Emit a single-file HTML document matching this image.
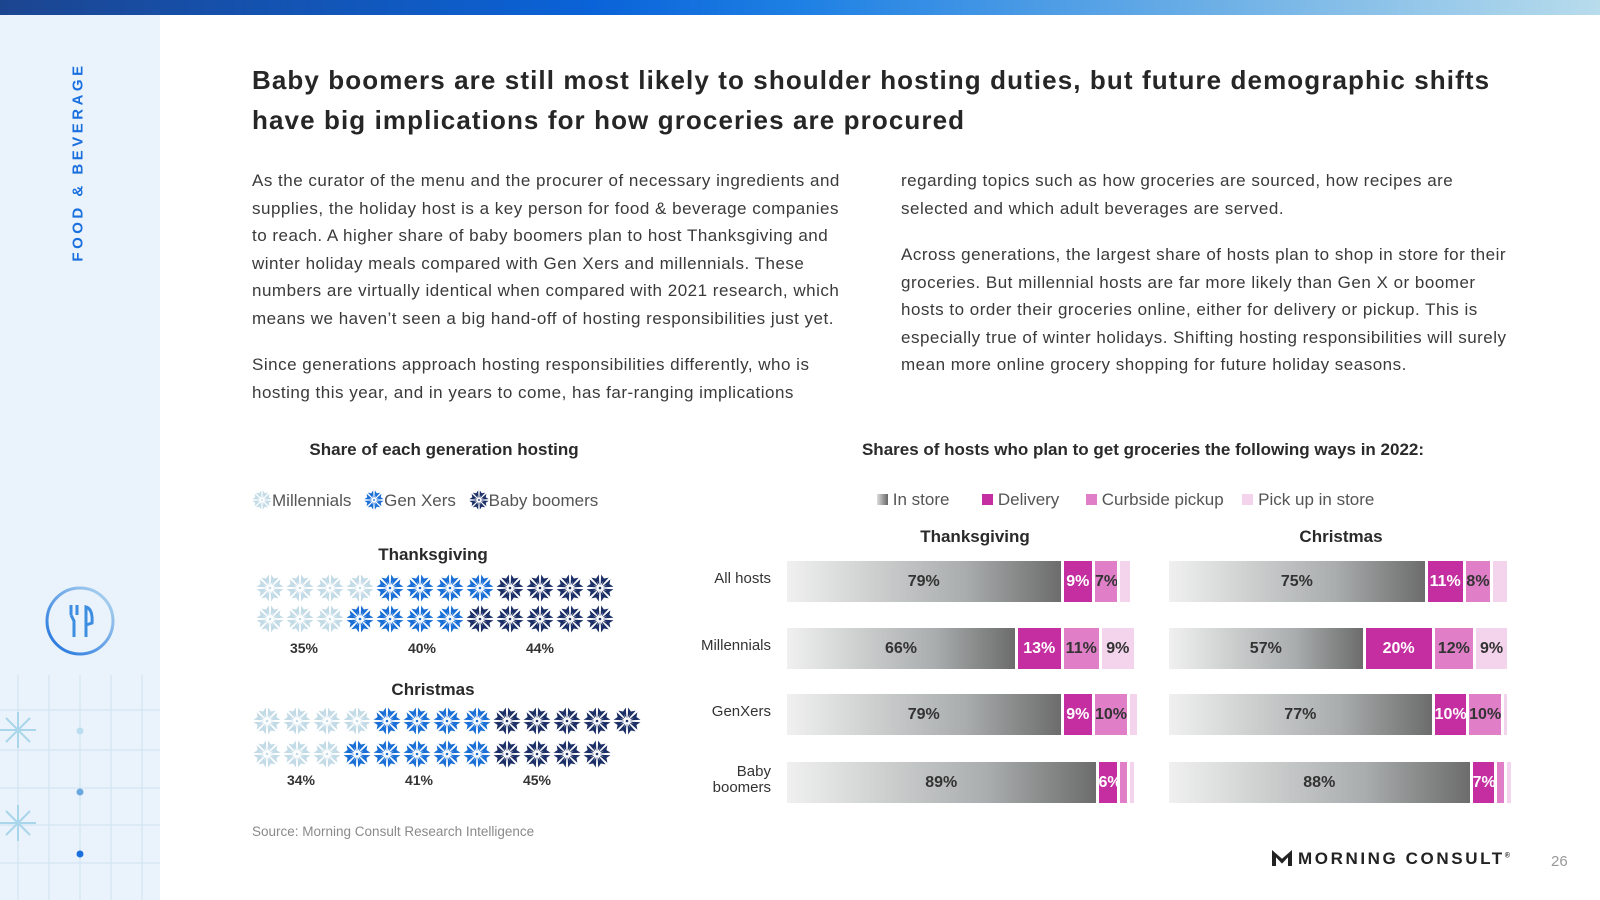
<!DOCTYPE html>
<html><head><meta charset="utf-8">
<style>
*{margin:0;padding:0;box-sizing:border-box}
body{width:1600px;height:900px;overflow:hidden;background:#fff;font-family:"Liberation Sans",sans-serif;color:#333;position:relative}
.abs{position:absolute}
.topbar{left:0;top:0;width:1600px;height:15px;background:linear-gradient(90deg,#1c4590 0%,#0a63d8 37%,#1e80e4 50%,#6aaee6 75%,#b8dcec 100%)}
.side{left:0;top:15px;width:160px;height:885px;background:#eaf3fb}
.vt{left:78px;top:162px;transform:translate(-50%,-50%) rotate(-90deg);white-space:nowrap;color:#1a6fde;font-weight:bold;font-size:15px;letter-spacing:3.5px}
h1{position:absolute;left:252px;top:60px;font-size:26px;line-height:40px;color:#262626;font-weight:bold;white-space:nowrap;letter-spacing:1.1px}
.p{position:absolute;font-size:17px;line-height:27.5px;color:#3a3a3a;white-space:nowrap;letter-spacing:0.5px}
.ct{position:absolute;font-size:17px;font-weight:bold;color:#2a2a2a;transform:translateX(-50%);white-space:nowrap}
.lg{position:absolute;font-size:17px;color:#555;white-space:nowrap}
.lbl{position:absolute;font-size:14px;font-weight:bold;color:#333;transform:translateX(-50%)}
.rl{position:absolute;font-size:15px;color:#333;text-align:right;line-height:16px}
</style></head><body>
<div class="abs topbar"></div>
<div class="abs side">
<svg class="abs" style="left:0;top:640px" width="160" height="245">
<g stroke="#cfe2f2" stroke-width="1"><line x1="0" y1="55" x2="160" y2="55"/><line x1="0" y1="95" x2="160" y2="95"/><line x1="0" y1="133" x2="160" y2="133"/><line x1="0" y1="170" x2="160" y2="170"/><line x1="0" y1="208" x2="160" y2="208"/><line x1="18" y1="20" x2="18" y2="245"/><line x1="49" y1="20" x2="49" y2="245"/><line x1="80" y1="20" x2="80" y2="245"/><line x1="111" y1="20" x2="111" y2="245"/><line x1="142" y1="20" x2="142" y2="245"/></g>
<g stroke="#a9d6ea" stroke-width="2"><line x1="0" y1="75" x2="36" y2="75"/><line x1="18" y1="57" x2="18" y2="93"/><line x1="6" y1="63" x2="30" y2="87"/><line x1="30" y1="63" x2="6" y2="87"/><line x1="0" y1="168" x2="36" y2="168"/><line x1="18" y1="150" x2="18" y2="186"/><line x1="6" y1="156" x2="30" y2="180"/><line x1="30" y1="156" x2="6" y2="180"/></g>
<circle cx="80" cy="76" r="3.5" fill="#bcdcef"/><circle cx="80" cy="137" r="3.5" fill="#6aa8df"/><circle cx="80" cy="199" r="3.5" fill="#1a6fde"/>
</svg>
<svg class="abs" style="left:44px;top:570px" width="72" height="72">
<defs><linearGradient id="cg" x1="0" y1="1" x2="1" y2="0"><stop offset="0" stop-color="#1a6fde"/><stop offset="1" stop-color="#b8daf0"/></linearGradient></defs>
<circle cx="36" cy="36" r="33" fill="none" stroke="url(#cg)" stroke-width="3"/>
<g stroke="#3d8ee0" stroke-width="3" fill="none"><line x1="27" y1="20" x2="27" y2="30"/><line x1="33" y1="20" x2="33" y2="30"/><path d="M27 30 L30 36 L30 52"/><path d="M42 52 L42 22 Q49 24 48 38 L42 40"/></g>
</svg>
</div>
<div class="abs vt">FOOD &amp; BEVERAGE</div>

<h1>Baby boomers are still most likely to shoulder hosting duties, but future demographic shifts<br>have big implications for how groceries are procured</h1>

<div class="p" style="left:252px;top:167px">As the curator of the menu and the procurer of necessary ingredients and<br>supplies, the holiday host is a key person for food &amp; beverage companies<br>to reach. A higher share of baby boomers plan to host Thanksgiving and<br>winter holiday meals compared with Gen Xers and millennials. These<br>numbers are virtually identical when compared with 2021 research, which<br>means we haven’t seen a big hand-off of hosting responsibilities just yet.<div style="height:19px"></div>Since generations approach hosting responsibilities differently, who is<br>hosting this year, and in years to come, has far-ranging implications</div>
<div class="p" style="left:901px;top:167px">regarding topics such as how groceries are sourced, how recipes are<br>selected and which adult beverages are served.<div style="height:19px"></div>Across generations, the largest share of hosts plan to shop in store for their<br>groceries. But millennial hosts are far more likely than Gen X or boomer<br>hosts to order their groceries online, either for delivery or pickup. This is<br>especially true of winter holidays. Shifting hosting responsibilities will surely<br>mean more online grocery shopping for future holiday seasons.</div>

<div class="ct" style="left:444px;top:440px">Share of each generation hosting</div>
<div class="ct" style="left:1143px;top:440px">Shares of hosts who plan to get groceries the following ways in 2022:</div>

<svg width="0" height="0" style="position:absolute"><defs>
<symbol id="flake" viewBox="-14 -14 28 28"><g id="pet">
<path d="M-0.6 -3 L-4.2 -9 L-1.2 -13.5 L-0.6 -3Z M0.6 -3 L4.2 -9 L1.2 -13.5 L0.6 -3Z"/></g>
<use href="#pet" transform="rotate(45)"/><use href="#pet" transform="rotate(90)"/><use href="#pet" transform="rotate(135)"/><use href="#pet" transform="rotate(180)"/><use href="#pet" transform="rotate(225)"/><use href="#pet" transform="rotate(270)"/><use href="#pet" transform="rotate(315)"/><circle r="1.3"/></symbol>
</defs></svg>

<div class="lg" style="left:252px;top:490px">
<svg width="20" height="20" style="vertical-align:-4px;fill:#c3dbe6"><use href="#flake"/></svg><span>Millennials</span>
<svg width="20" height="20" style="vertical-align:-4px;margin-left:8px;fill:#1a6fd6"><use href="#flake"/></svg><span>Gen Xers</span>
<svg width="20" height="20" style="vertical-align:-4px;margin-left:8px;fill:#1c2f66"><use href="#flake"/></svg><span>Baby boomers</span>
</div>

<div class="lg" style="left:877px;top:490px">
<span style="display:inline-block;width:11px;height:11px;background:linear-gradient(90deg,#ddd,#666);vertical-align:0px"></span> <span>In store</span>
<span style="display:inline-block;width:11px;height:11px;background:#c42ea0;margin-left:28px"></span> <span>Delivery</span>
<span style="display:inline-block;width:11px;height:11px;background:#e07fc8;margin-left:22px"></span> <span>Curbside pickup</span>
<span style="display:inline-block;width:11px;height:11px;background:#f4d3ec;margin-left:14px"></span> <span>Pick up in store</span>
</div>

<div id="flakes"></div>
<div id="bars"></div>

<div class="abs" style="left:252px;top:824px;font-size:13.5px;color:#8a8a8a">Source: Morning Consult Research Intelligence</div>
<div class="abs" style="left:1272px;top:849px;font-size:17px;font-weight:bold;letter-spacing:2.6px;color:#222;white-space:nowrap"><span style="display:inline-block;width:20px;height:16px;vertical-align:-2px;margin-right:6px;background:#222;clip-path:polygon(0 0,50% 55%,100% 0,100% 100%,80% 100%,80% 45%,50% 85%,20% 45%,20% 100%,0 100%)"></span>MORNING CONSULT<sup style="font-size:7px">®</sup></div>
<div class="abs" style="left:1551px;top:853px;font-size:15px;color:#999">26</div>

<script>
// Hosting share data
const holidays = ["Thanksgiving","Christmas"];
const genPct = [[35,40,44],[34,41,45]];
const row1Counts = [[4,4,4],[4,4,5]];
const row2Counts = [[3,4,5],[3,5,4]];
const flakeColors = ["#c3dbe6","#1a6fd6","#1c2f66"];

// Grocery bar data
const groups = ["All hosts","Millennials","GenXers","Baby\nboomers"];
const thanksInStore = [79,66,79,89];
const thanksDelivery = [9,13,9,6];
const thanksCurbside = [7,11,10,3];
const thanksPickup = [3,9,2,1];
const xmasInStore = [75,57,77,88];
const xmasDelivery = [11,20,10,7];
const xmasCurbside = [8,12,10,3];
const xmasPickup = [4,9,1,1];

const NS="http://www.w3.org/2000/svg";
const fl=document.getElementById('flakes');
const blockTop=[555,690], rowY=[[588,619],[721,754]], startX=[270,267], step=30, lblY=[640,772];
holidays.forEach((h,hi)=>{
  const t=document.createElement('div');t.className='ct';t.style.left='433px';t.style.top=(blockTop[hi]-10)+'px';t.textContent=h;
  
  
  fl.appendChild(t);
  [row1Counts[hi],row2Counts[hi]].forEach((cnts,ri)=>{
    let k=0;
    cnts.forEach((c,gi)=>{for(let j=0;j<c;j++){
      const s=document.createElementNS(NS,'svg');s.setAttribute('width','28');s.setAttribute('height','28');
      s.style.position='absolute';s.style.left=(startX[hi]+k*step-14)+'px';s.style.top=(rowY[hi][ri]-14)+'px';s.style.fill=flakeColors[gi];
      
      
      const u=document.createElementNS(NS,'use');u.setAttribute('href','#flake');s.appendChild(u);fl.appendChild(s);k++;}});
  });
  genPct[hi].forEach((p,gi)=>{
    const l=document.createElement('div');l.className='lbl';l.style.left=(startX[hi]+34+gi*118)+'px';l.style.top=lblY[hi]+'px';l.textContent=p+'%';
    
    
    fl.appendChild(l);
  });
});

const bars=document.getElementById('bars');
const panels=[{name:'thanksgiving',title:'Thanksgiving',x0:787,w:350,series:[thanksInStore,thanksDelivery,thanksCurbside,thanksPickup]},
              {name:'christmas',title:'Christmas',x0:1169,w:345,series:[xmasInStore,xmasDelivery,xmasCurbside,xmasPickup]}];
const titleX=[975,1341];
const segColors=['linear-gradient(90deg,#f0f0f0,#a9adad 65%,#6c6c6c)','#c42ea0','#e07fc8','#f4d3ec'];
const segText=['#333','#fff','#333','#333'];
const rowCY=[581,648,714,782], barH=41;
groups.forEach((g,i)=>{
  const r=document.createElement('div');r.className='rl';r.style.left='640px';r.style.width='131px';
  const lines=g.split('\n');r.innerHTML=lines.join('<br>');r.style.top=(rowCY[i]-8*lines.length-2)+'px';
  
  
  bars.appendChild(r);
});
panels.forEach((p,pi)=>{
  const t=document.createElement('div');t.className='ct';t.style.left=titleX[pi]+'px';t.style.top='527px';t.textContent=p.title;
  
  
  bars.appendChild(t);
  groups.forEach((g,i)=>{
    const vals=p.series.map(s=>s[i]);const tot=vals.reduce((a,b)=>a+b,0);
    const sc=p.w/Math.max(tot,100);
    let x=p.x0;
    vals.forEach((v,si)=>{
      const w=v*sc;
      const d=document.createElement('div');d.style.position='absolute';
      d.style.left=x+'px';d.style.top=(rowCY[i]-barH/2)+'px';d.style.width=Math.max(w-(si<3?3:0),1)+'px';d.style.height=barH+'px';
      d.style.background=segColors[si];d.style.color=segText[si];
      d.style.font='bold 16px "Liberation Sans",sans-serif';d.style.lineHeight=barH+'px';d.style.textAlign='center';d.style.whiteSpace='nowrap';d.style.overflow='hidden';
      if((si==0)||(si<3&&v>=5)||(si==3&&v>=9)) d.textContent=v+'%';
      
      
      bars.appendChild(d);x+=w;
    });
  });
});
</script>
</body></html>
